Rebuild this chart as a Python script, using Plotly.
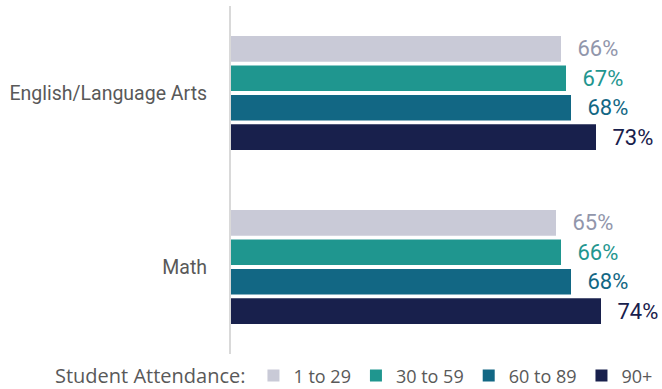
import plotly.graph_objects as go

subjects = ["English/Language Arts", "Math"]
groups = ["1 to 29", "30 to 59", "60 to 89", "90+"]
values = {
    "1 to 29": [66, 65],
    "30 to 59": [67, 66],
    "60 to 89": [68, 68],
    "90+": [73, 74],
}
bar_colors = ["#c9cad7", "#1f968f", "#126784", "#18204c"]
label_colors = ["#9196ab", "#1f968f", "#126784", "#18204c"]

fig = go.Figure()
for g, bc, lc in zip(groups, bar_colors, label_colors):
    fig.add_trace(go.Bar(
        name=g,
        y=subjects,
        x=values[g],
        orientation="h",
        marker=dict(color=bc, line=dict(width=0)),
        text=[f"\u2002\u200a{v}%" for v in values[g]],
        textposition="outside",
        textfont=dict(family="Roboto", size=22, color=lc),
        cliponaxis=False,
    ))

fig.update_layout(
    width=662,
    height=389,
    margin=dict(l=231, r=0, t=6, b=35),
    paper_bgcolor="white",
    plot_bgcolor="white",
    barmode="group",
    bargap=0.324,
    bargroupgap=0.13,
    showlegend=True,
    legend=dict(
        orientation="h",
        xref="container",
        yref="container",
        x=0.08,
        xanchor="left",
        y=0.034,
        yanchor="middle",
        title=dict(text="Student Attendance:", font=dict(family="Open Sans", size=20, color="#595959")),
        font=dict(family="Open Sans", size=18, color="#595959"),
        itemwidth=30,
        traceorder="normal",
    ),
    xaxis=dict(range=[0, 86.2], visible=False),
    yaxis=dict(
        autorange="reversed",
        showline=True,
        linecolor="#d9d9d9",
        linewidth=2,
        ticks="",
        showgrid=False,
        tickfont=dict(family="Roboto", size=19.5, color="#595959"),
        ticklabelstandoff=18,
    ),
)

fig.write_html("out.html")
